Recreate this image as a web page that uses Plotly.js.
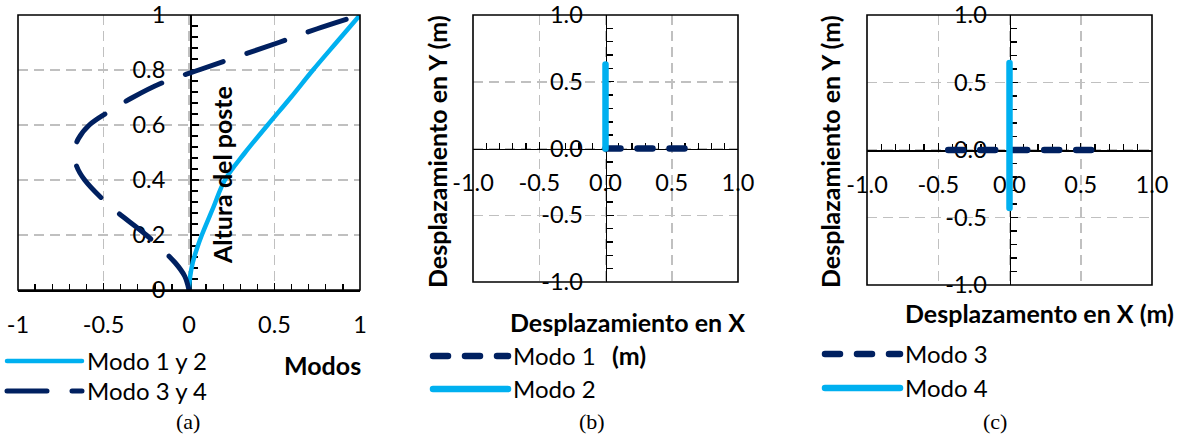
<!DOCTYPE html>
<html><head><meta charset="utf-8">
<script src="https://cdn.plot.ly/plotly-3.0.1.min.js"></script>
<style>
html,body{margin:0;padding:0;background:#fff;}
#chart{width:1179px;height:435px;}
.js-line{stroke-linecap:round;}
</style></head><body><div id="chart"></div>
<script>
// ---- data (a) ----
const alturaModo12 = [0, 0.05, 0.1, 0.15, 0.2, 0.3, 0.4, 0.5, 0.6, 0.7, 0.8, 0.9, 1.0];
const modo12 = [0, 0.007, 0.022, 0.046, 0.075, 0.142, 0.21, 0.328, 0.46, 0.595, 0.725, 0.862, 1.0];
const alturaModo34 = [0, 0.05, 0.1, 0.2, 0.3, 0.4, 0.45, 0.5, 0.55, 0.6, 0.65, 0.7, 0.75, 0.8, 0.85, 0.9, 0.95, 1.0];
const modo34 = [0, -0.025, -0.082, -0.25, -0.452, -0.61, -0.657, -0.672, -0.647, -0.583, -0.465, -0.33, -0.17, 0.057, 0.29, 0.525, 0.75, 1.0];
// ---- data (b) ----
const modo1X = [0, 0.62], modo1Y = [0, 0];
const modo2X = [0, 0], modo2Y = [0, 0.63];
// ---- data (c) ----
const modo3X = [-0.43, 0.6], modo3Y = [0, 0];
const modo4X = [0, 0], modo4Y = [-0.43, 0.645];
// ---- tick labels ----
const ticksAx = [-1, -0.5, 0, 0.5, 1], ticksAxText = ['-1', '-0.5', '0', '0.5', '1'];
const ticksAy = [0, 0.2, 0.4, 0.6, 0.8, 1], ticksAyText = ['0', '0.2', '0.4', '0.6', '0.8', '1'];
const ticksBC = [-1, -0.5, 0, 0.5, 1], ticksBCText = ['-1.0', '-0.5', '0.0', '0.5', '1.0'];

const LIGHT = '#00B0F0', DARK = '#002060';
const W = 1179, H = 435;
const px = v => v / W, py = v => 1 - v / H;
const tickfont = {family: 'Lato', size: 23.5, color: '#000'};
const boldfont = {family: 'Lato', size: 25, color: '#000', weight: 'bold'};
const capfont = {family: 'Liberation Serif', size: 22, color: '#000'};
const legfont = {family: 'Lato', size: 24, color: '#000'};
const grid = {showgrid: true, gridcolor: '#c0c0c0', gridwidth: 1.5, griddash: '10px,6px', zeroline: false};
const axline = {showline: true, linecolor: '#000', linewidth: 1.6, tickcolor: '#000', tickwidth: 1.4,
                fixedrange: true, layer: 'below traces'};

const traces = [
  {x: modo12, y: alturaModo12, xaxis: 'x', yaxis: 'y', mode: 'lines', name: 'Modo 1 y 2', legend: 'legend',
   line: {color: LIGHT, width: 4.5, shape: 'spline'}},
  {x: modo34, y: alturaModo34, xaxis: 'x', yaxis: 'y', mode: 'lines', name: 'Modo 3 y 4', legend: 'legend4',
   line: {color: DARK, width: 5, shape: 'spline', dash: '40px,25px'}},
  {x: modo1X, y: modo1Y, xaxis: 'x2', yaxis: 'y2', mode: 'lines', name: 'Modo 1', legend: 'legend2',
   line: {color: DARK, width: 6.5, dash: '15px,17px'}},
  {x: modo2X, y: modo2Y, xaxis: 'x2', yaxis: 'y2', mode: 'lines', name: 'Modo 2', legend: 'legend5',
   line: {color: LIGHT, width: 6.5}},
  {x: modo3X, y: modo3Y, xaxis: 'x3', yaxis: 'y3', mode: 'lines', name: 'Modo 3', legend: 'legend3',
   line: {color: DARK, width: 6.5, dash: '15px,17px'}},
  {x: modo4X, y: modo4Y, xaxis: 'x3', yaxis: 'y3', mode: 'lines', name: 'Modo 4', legend: 'legend6',
   line: {color: LIGHT, width: 6.5}}
];

function legendAt(x, y, iw) {
  return {x: px(x), y: py(y), xanchor: 'left', yanchor: 'top', font: legfont, itemwidth: iw,
          bgcolor: 'rgba(0,0,0,0)', borderwidth: 0, tracegroupgap: 0, traceorder: 'normal'};
}
function ann(text, x, y, font, angle) {
  return {text: text, x: px(x), y: py(y), xref: 'paper', yref: 'paper', showarrow: false,
          xanchor: 'center', yanchor: 'middle', font: font, textangle: angle || 0};
}
function box(xr, yr) {
  return {type: 'rect', xref: xr + ' domain', yref: yr + ' domain', x0: 0, x1: 1, y0: 0, y1: 1,
          line: {color: '#000', width: 1.6}, layer: 'above'};
}
function mainAxis(extra, minorDtick) {
  return Object.assign({}, axline, grid, {ticks: 'inside', ticklen: 7, tickfont: tickfont,
    minor: {tickmode: 'linear', tick0: 0, dtick: minorDtick, ticks: 'inside', ticklen: 6, tickcolor: '#000', tickwidth: 1.4, showgrid: false}
  }, extra);
}
// overlay axis that only draws the outer half of the crossing major ticks
function crossAxis(over, anchor, pos, dom, rng, vals) {
  const a = {overlaying: over, range: rng, domain: dom, tickmode: 'array', tickvals: vals, ticks: 'outside', ticklen: 7,
             tickcolor: '#000', tickwidth: 1.4, showticklabels: false, showgrid: false, showline: false, zeroline: false,
             fixedrange: true, layer: 'below traces'};
  if (pos === null) a.anchor = anchor; else { a.anchor = 'free'; a.position = pos; }
  return a;
}

const domAx = [px(18), px(360)], domAy = [py(290), py(15)];
const domBx = [px(473), px(738)], domBy = [py(282), py(15)];
const domCx = [px(867), px(1152)], domCy = [py(285), py(15)];

const layout = {
  width: W, height: H, margin: {l: 0, r: 0, t: 0, b: 0},
  paper_bgcolor: '#fff', plot_bgcolor: 'rgba(0,0,0,0)', showlegend: true,
  // (a)
  xaxis: mainAxis({domain: domAx, range: [-1, 1], anchor: 'y', tickmode: 'array', tickvals: ticksAx, ticktext: ticksAxText,
    ticklabelstandoff: 13}, 0.1),
  yaxis: mainAxis({domain: domAy, range: [0, 1], anchor: 'free', position: px(190), tickmode: 'array', tickvals: ticksAy,
    ticktext: ticksAyText, ticklabelstandoff: 20}, 0.04),
  // (b)
  xaxis2: mainAxis({domain: domBx, range: [-1, 1], anchor: 'free', position: py(148.5), tickmode: 'array', tickvals: ticksBC,
    ticktext: ticksBCText, ticklabelstandoff: 13}, 0.1),
  yaxis2: mainAxis({domain: domBy, range: [-1, 1], anchor: 'free', position: px(605.5), tickmode: 'array', tickvals: ticksBC,
    ticktext: ticksBCText, ticklabelstandoff: 18}, 0.1),
  // (c)
  xaxis3: mainAxis({domain: domCx, range: [-1, 1], anchor: 'free', position: py(150), tickmode: 'array', tickvals: ticksBC,
    ticktext: ticksBCText, ticklabelstandoff: 13}, 0.1),
  yaxis3: mainAxis({domain: domCy, range: [-1, 1], anchor: 'free', position: px(1009.5), tickmode: 'array', tickvals: ticksBC,
    ticktext: ticksBCText, ticklabelstandoff: 18}, 0.1),
  // crossing tick halves
  xaxis4: crossAxis('x', 'y', null, domAx, [-1, 1], ticksAx),
  yaxis4: crossAxis('y', 'x', px(190), domAy, [0, 1], ticksAy),
  xaxis5: crossAxis('x2', 'y2', py(148.5), domBx, [-1, 1], ticksBC),
  yaxis5: crossAxis('y2', 'x2', px(605.5), domBy, [-1, 1], ticksBC),
  xaxis6: crossAxis('x3', 'y3', py(150), domCx, [-1, 1], ticksBC),
  yaxis6: crossAxis('y3', 'x3', px(1009.5), domCy, [-1, 1], ticksBC),
  legend: legendAt(2, 339, 75),
  legend4: legendAt(2, 369, 75),
  legend2: legendAt(428, 334, 75),
  legend5: legendAt(428, 367, 75),
  legend3: legendAt(820, 332, 75),
  legend6: legendAt(820, 366, 75),
  shapes: [box('x', 'y'), box('x2', 'y2'), box('x3', 'y3')],
  annotations: [
    ann('Altura del poste', 222, 175, boldfont, -90),
    ann('Modos', 322, 365, boldfont),
    ann('Desplazamiento en X', 627, 322, boldfont),
    ann('(m)', 629, 355, boldfont),
    ann('Desplazamiento en Y (m)', 437, 152, boldfont, -90),
    ann('Desplazamento en X (m)', 1039, 313, boldfont),
    ann('Desplazamiento en Y (m)', 830, 152, boldfont, -90),
    ann('(a)', 188, 421, capfont),
    ann('(b)', 592, 421, capfont),
    ann('(c)', 995, 421, capfont)
  ]
};

Plotly.newPlot('chart', traces, layout, {staticPlot: true, displayModeBar: false});
</script></body></html>
